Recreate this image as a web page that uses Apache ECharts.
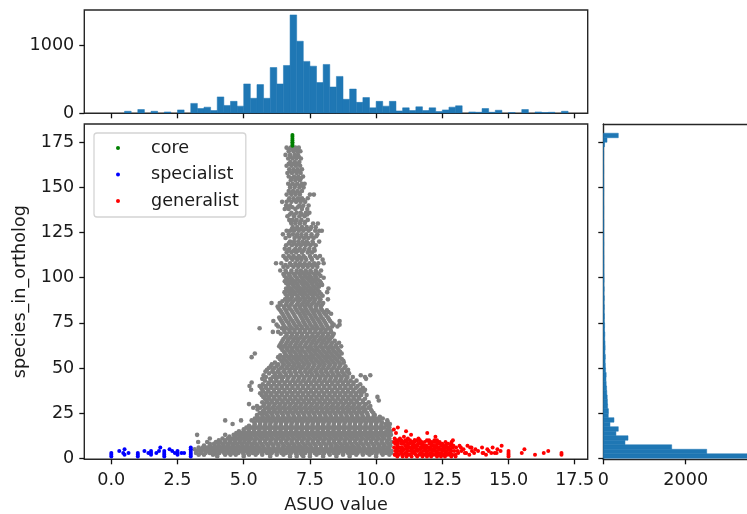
<!DOCTYPE html>
<html>
<head>
<meta charset="utf-8">
<style>html,body{margin:0;padding:0;background:#fff;overflow:hidden}#c{width:747px;height:514px}</style>
<script src="https://cdn.jsdelivr.net/npm/echarts@6/dist/echarts.min.js"></script>
</head>
<body>
<div id="c"></div>
<script>
const xTicks = [0, 2.5, 5, 7.5, 10, 12.5, 15, 17.5];
const yTicks = [0, 25, 50, 75, 100, 125, 150, 175];
const topTicks = [0, 1000];
const rightTicks = [0, 2000];
const asuoBinWidth = 0.25;
const asuoCounts = [0,0,30,0,55,0,30,0,20,0,50,0,145,70,90,40,240,115,175,105,430,220,420,220,670,430,700,1440,1055,760,690,450,715,385,540,205,355,160,230,80,175,105,175,35,80,40,95,40,80,25,50,90,110,0,20,15,70,15,45,0,10,0,55,0,20,10,15,0,30];
const speciesBinWidth = 2.5;
const speciesCounts = [3900,2510,1660,526,600,307,364,162,259,121,125,105,100,95,85,80,70,65,70,55,50,45,50,40,45,42,35,38,30,32,25,28,22,26,20,25,18,22,16,20,18,15,17,14,16,13,12,15,11,13,10,12,11,9,10,12,9,8,10,11,9,8,7,9,8,6,7,8,6,30,90,364];
const coreX = [6.84,6.84,6.84,6.84,6.84,6.84,6.84];
const coreY = [173,174,175,176,177,178,179];
const specialistX = [0,0,0,0.3,0.45,0.5,0.5,0.65,1,1,1,1.25,1.4,1.5,1.5,1.5,1.7,1.8,1.85,2,2,2,2,2.2,2.3,2.4,2.5,2.5,2.5,2.65,2.75,3,3,3,3,3,3];
const specialistY = [1,2,3,4,3,5,2,3,1,2,3,4,3,2,3,4,3,4,6,1,2,3,4,5,4,3,2,3,4,3,3,1,2,3,4,5,6];
const generalistX = [10.82,10.67,11.13,11.32,11.93,12.24,12.9,10.75,11.05,10.7,10.9,11.2,11.45,11.6,10.68,10.85,11.02,11.18,11.36,11.55,11.72,11.92,12.1,12.3,12.62,12.85,10.72,10.95,11.1,11.28,11.48,11.66,11.82,12.02,12.18,12.4,12.55,12.72,12.92,13.15,13.45,13.6,10.68,10.88,11.06,11.24,11.42,11.58,11.76,11.95,12.12,12.28,12.46,12.66,12.8,13.02,13.3,13.55,13.75,14,14.2,14.4,14.58,10.72,10.9,11.1,11.3,11.5,11.68,11.88,12.05,12.22,12.38,12.58,12.75,12.95,13.22,13.4,13.62,13.85,14.05,14.25,14.48,14.7,10.7,10.85,11.02,11.2,11.38,11.62,11.8,11.98,12.15,12.34,12.52,12.7,12.88,13,13.35,13.52,13.7,14.02,14.15,14.35,14.55,10.8,11,11.15,11.34,11.55,11.75,11.92,12.08,12.3,12.45,12.6,12.84,13,14.74,15,15,15,15,15.5,15.6,16,16.33,16.5,17,17];
const generalistY = [17,16,15,13,14,12,10,14,12,11,11,11,10,11,9,10,9,10,9,10,9,10,9,10,9,9,8,8,7,8,7,8,7,8,7,8,7,8,7,7,7,6,6,6,5,6,6,5,6,6,5,6,5,6,5,6,5,6,5,6,5,6,5,4,4,3,4,4,3,4,3,4,3,4,3,4,4,3,4,4,3,4,3,4,2,2,2,2,3,2,2,2,2,2,2,2,2,2,3,2,3,3,2,3,3,1,1,1,1,1,1,1,1,1,1,1,1,1,7,1,2,3,4,3,5,2,3,4,2,3];
const generalistMoreRows = [
[2,[10.72,10.98,11.28,11.5,11.72,11.9,12.08,12.24,12.44,12.62,12.8]],
[3,[10.78,10.95,11.14,11.44,11.7,11.9,12.1,12.28,12.46,12.62,12.8,13.1]],
[4,[10.82,11,11.2,11.4,11.58,11.78,11.96,12.14,12.3,12.5,12.66,12.84,13.08]],
[5,[10.78,10.98,11.16,11.34,11.52,11.68,11.86,12.04,12.2,12.38,12.56,12.74]],
[6,[10.8,10.98,11.15,11.34,11.5,11.68,11.86,12.04,12.2,12.37,12.54,12.74,12.9,13.2]],
[7,[10.8,11.2,11.38,11.56,11.74,11.9,12.1,12.28,12.46,12.64,12.82]],
[8,[10.82,11.02,11.2,11.4,11.58,11.74,12.1,12.3,12.5,12.66,12.84]],
[9,[10.8,10.94,11.1,11.3,11.46,11.66,11.84,12,12.2,12.4]],
[10,[10.78,10.95,11.1,11.28,11.46,11.65,12,12.2]]
];
const greyRows = [
[172,[6.62,6.78,6.95,7.08]],[170,[6.7,6.88,7.02,7.14]],[168,[6.58,6.75,6.92,7.05]],[166,[6.68,6.84,6.99,7.16]],[164,[6.76,6.93,7.1]],[162,[6.62,6.8,6.97,7.13]],[160,[6.72,6.88,7.04,7.2]],[158,[6.65,6.82,7,7.15]],[156,[6.7,6.9,7.06,7.24]],[154,[6.78,6.95,7.12]],[152,[6.68,6.85,7.02,7.2,7.3]],[150,[6.75,6.92,7.1,7.26]],[148,[6.7,6.86,7.03,7.2]],[146,[6.62,6.8,6.96,7.12,7.5,7.65]],[144,[6.72,6.88,7.05,7.2,7.42]],[142,[6.45,6.62,6.8,6.98,7.15,7.32]],[140,[6.6,6.75,7.1,7.25,7.45]],[138,[6.55,6.7,6.95,7.2,7.4]],[136,[6.8,7,7.15,7.35,7.48]],[134,[6.65,6.9,7.1,7.3]],
[132,[6.72,6.85,7,7.18,7.42]],[130,[6.8,6.95,7.12,7.3,7.62,7.8]],[128,[6.85,7.02,7.2,7.38,7.55,7.72]],[126,[6.62,6.75,6.9,7.08,7.25,7.45,7.7,7.85,7.95]],[124,[6.48,6.7,6.86,7.02,7.18,7.36,7.56,7.78]],[122,[6.58,6.92,7.1,7.28,7.44,7.64]],[120,[6.75,6.9,7.06,7.22,7.38,7.6,7.85]],[118,[6.6,6.82,7,7.16,7.34,7.52,7.72]],[116,[6.55,6.72,6.95,7.12,7.3,7.48,7.66]],[114,[6.62,6.8,6.98,7.2,7.42,7.58]],
[112,[6.5,6.7,6.88,7.08,7.26,7.5,7.7,7.88]],[110,[6.62,6.84,7.02,7.18,7.36,7.58,7.98]],[108,[6.22,6.42,6.75,6.95,7.12,7.3,7.48,7.66,7.82,8.02]],[106,[6.5,6.66,6.88,7.06,7.24,7.42,7.6,7.78]],[104,[6.38,6.58,6.8,7,7.16,7.34,7.52,7.72,7.92]],[102,[6.5,6.7,6.9,7.1,7.28,7.46,7.66,7.84]],[100,[6.6,6.78,7,7.2,7.38,7.56,7.74,8.02]],[98,[6.55,6.72,6.92,7.12,7.3,7.5,7.68,7.88]],[96,[6.68,6.86,7.04,7.24,7.42,7.6,7.8,7.96]],[94,[6.6,6.78,6.98,7.16,7.34,7.54,7.72,8.2]],
[92,[6.54,6.72,6.9,7.1,7.28,7.48,7.66,7.86,8.15]],[90,[6.66,6.84,7.02,7.22,7.4,7.6,7.78,7.98]],[88,[6.56,6.74,6.96,7.14,7.32,7.52,7.7,7.9,8.18]],[86,[6.05,6.36,6.62,6.82,7.04,7.24,7.42,7.62,7.82,8]],[84,[6.28,6.52,6.7,6.92,7.12,7.3,7.5,7.72,7.9]],[82,[6.38,6.6,6.8,7,7.2,7.38,7.58,7.76,7.96,8.14]],[80,[6.46,6.66,6.88,7.1,7.28,7.46,7.66,7.86,8.06,8.3]],[78,[6.34,6.54,6.74,6.96,7.18,7.36,7.56,7.74,7.94,8.18]],[76,[6.12,6.42,6.62,6.84,7.04,7.24,7.44,7.64,7.84,8.04,8.26,8.62]],[74,[6.24,6.5,6.72,6.92,7.12,7.32,7.52,7.72,7.92,8.12,8.4,8.62]],
[72,[5.6,6.44,6.62,6.82,7.02,7.22,7.42,7.62,7.8,8,8.2]],[70,[6.1,6.3,6.54,6.74,6.92,7.12,7.3,7.5,7.7,7.9,8.08,8.3]],[68,[6.62,6.82,7,7.2,7.4,7.6,7.78,7.98,8.18,8.36]],[66,[6.5,6.7,6.9,7.08,7.28,7.48,7.68,7.88,8.06,8.26]],[64,[6.42,6.62,6.8,7,7.18,7.38,7.58,7.76,7.96,8.14,8.34,8.6]],[62,[6.34,6.52,6.72,6.92,7.1,7.3,7.5,7.7,7.88,8.08,8.26,8.46,8.68]],[60,[6.46,6.66,6.84,7.04,7.22,7.42,7.62,7.8,8,8.2,8.38,8.58]],[58,[5.42,6.56,6.76,6.96,7.14,7.34,7.54,7.72,7.92,8.12,8.3,8.5,8.7]],[56,[5.3,6.3,6.5,6.68,6.88,7.06,7.26,7.46,7.64,7.84,8.04,8.22,8.42,8.62]],[54,[6.42,6.6,6.8,7,7.18,7.38,7.56,7.76,7.96,8.14,8.34,8.54,8.76]],
[52,[6.06,6.3,6.52,6.72,6.92,7.1,7.3,7.48,7.68,7.88,8.06,8.26,8.46,8.66]],[50,[5.95,6.16,6.4,6.62,6.82,7,7.2,7.4,7.6,7.8,8,8.18,8.38,8.58,8.8]],[48,[5.82,6.08,6.28,6.5,6.72,6.92,7.12,7.32,7.5,7.7,7.9,8.1,8.3,8.5,8.7,8.9]],[46,[5.75,6.2,6.4,6.6,6.8,7,7.2,7.4,7.6,7.8,8,8.2,8.4,8.6,8.82,9.42,9.78]],[44,[5.7,6,6.22,6.44,6.66,6.88,7.08,7.28,7.48,7.68,7.88,8.08,8.28,8.48,8.68,8.88,9.62]],[42,[5.3,5.95,6.15,6.35,6.55,6.75,6.95,7.15,7.35,7.55,7.75,7.95,8.15,8.35,8.55,8.75,8.95,9.15]],[40,[5.22,5.6,5.82,6.04,6.24,6.44,6.64,6.84,7.04,7.24,7.44,7.64,7.84,8.04,8.24,8.44,8.64,8.84,9.04,9.3]],[38,[5.28,5.7,5.92,6.14,6.34,6.54,6.74,6.94,7.14,7.34,7.54,7.74,7.94,8.14,8.34,8.54,8.74,8.94,9.14,9.4,9.58]],[36,[5.62,5.84,6.04,6.24,6.44,6.64,6.84,7.04,7.24,7.44,7.64,7.84,8.04,8.24,8.44,8.64,8.84,9.04,9.24,9.44]],[34,[5.74,5.94,6.14,6.34,6.54,6.74,6.94,7.14,7.34,7.54,7.74,7.94,8.14,8.34,8.54,8.74,8.94,9.14,9.34,10.05]],
[32,[5.85,6.05,6.25,6.45,6.65,6.85,7.05,7.25,7.45,7.65,7.85,8.05,8.25,8.45,8.65,8.85,9.05,9.25,9.5,10.1]],[30,[5.2,5.78,5.98,6.18,6.38,6.58,6.78,6.98,7.18,7.38,7.58,7.78,7.98,8.18,8.38,8.58,8.78,8.98,9.18,9.38,9.62]],[28,[5.36,5.62,5.88,6.08,6.28,6.48,6.68,6.88,7.08,7.28,7.48,7.68,7.88,8.08,8.28,8.48,8.68,8.88,9.08,9.28,9.48,9.72]],[26,[5.72,5.94,6.14,6.34,6.54,6.74,6.94,7.14,7.34,7.54,7.74,7.94,8.14,8.34,8.54,8.74,8.94,9.14,9.34,9.54,9.84]],[24,[5.5,5.7,5.88,6.08,6.28,6.48,6.68,6.88,7.08,7.28,7.48,7.68,7.88,8.08,8.28,8.48,8.68,8.88,9.08,9.28,9.48,9.68,9.95]],
[22,[5.42,5.62,5.82,6,6.2,6.4,6.6,6.8,7,7.2,7.4,7.6,7.8,8,8.2,8.4,8.6,8.8,9,9.2,9.4,9.6,9.8,10.02,10.25]],[21,[4.3,4.9,5.3,5.52,5.72,5.92,6.12,6.32,6.52,6.72,6.92,7.12,7.32,7.52,7.72,7.92,8.12,8.32,8.52,8.72,8.92,9.12,9.32,9.52,9.72,9.92,10.12,10.42]],[19,[4.58,5.42,5.62,5.82,6,6.2,6.4,6.6,6.8,7,7.2,7.4,7.6,7.8,8,8.2,8.4,8.6,8.8,9,9.2,9.4,9.6,9.8,10,10.2,10.36,10.52]],[17,[5.1,5.3,5.5,5.7,5.9,6.1,6.3,6.5,6.7,6.9,7.1,7.3,7.5,7.7,7.9,8.1,8.3,8.5,8.7,8.9,9.1,9.3,9.5,9.7,9.9,10.1,10.3,10.5]],[15,[4.82,5,5.18,5.38,5.58,5.78,5.98,6.18,6.38,6.58,6.78,6.98,7.18,7.38,7.58,7.78,7.98,8.18,8.38,8.58,8.78,8.98,9.18,9.38,9.58,9.78,9.98,10.18,10.38,10.55]],
[13,[3.24,4.3,4.62,4.8,4.98,5.16,5.36,5.56,5.76,5.96,6.16,6.36,6.56,6.76,6.96,7.16,7.36,7.56,7.76,7.96,8.16,8.36,8.56,8.76,8.96,9.16,9.36,9.56,9.76,9.96,10.16,10.36,10.56]],[11,[3.72,4.2,4.4,4.58,4.76,4.94,5.12,5.3,5.5,5.7,5.9,6.1,6.3,6.5,6.7,6.9,7.1,7.3,7.5,7.7,7.9,8.1,8.3,8.5,8.7,8.9,9.1,9.3,9.5,9.7,9.9,10.1,10.3,10.5]],[9,[3.28,3.62,3.95,4.12,4.3,4.48,4.66,4.84,5.02,5.2,5.4,5.6,5.8,6,6.2,6.4,6.6,6.8,7,7.2,7.4,7.6,7.8,8,8.2,8.4,8.6,8.8,9,9.2,9.4,9.6,9.8,10,10.2,10.4,10.58]],
[7,[3.5,3.72,3.9,4.06,4.24,4.42,4.6,4.78,4.96,5.14,5.32,5.52,5.72,5.92,6.12,6.32,6.52,6.72,6.92,7.12,7.32,7.52,7.72,7.92,8.12,8.32,8.52,8.72,8.92,9.12,9.32,9.52,9.72,9.92,10.12,10.32,10.54]],[5,[3.15,3.32,3.5,3.66,3.84,4.02,4.2,4.38,4.56,4.74,4.92,5.1,5.28,5.46,5.64,5.82,6,6.18,6.36,6.54,6.72,6.9,7.08,7.26,7.44,7.62,7.8,7.98,8.16,8.34,8.52,8.7,8.88,9.06,9.24,9.42,9.6,9.78,9.96,10.14,10.32,10.5]],[3,[3.2,3.38,3.56,3.72,3.9,4.08,4.26,4.44,4.62,4.8,4.98,5.16,5.34,5.52,5.7,5.88,6.06,6.24,6.42,6.6,6.78,6.96,7.14,7.32,7.5,7.68,7.86,8.04,8.22,8.4,8.58,8.76,8.94,9.12,9.3,9.48,9.66,9.84,10.02,10.2,10.38,10.56]],[2,[3.3,3.5,3.84,4,4.3,4.5,4.7,5,5.2,5.45,5.7,6,6.25,6.5,6.75,7,7.2,7.5,7.75,8,8.25,8.5,8.75,9,9.25,9.5,9.75,10,10.25,10.5]],[1,[4,5,6,6.75,7,7.25,7.5,8,8.5,9,10]]
];
const greyMoreRows = [
[171,[6.7,6.86,7.02]],[167,[6.76,6.92,7.08]],[163,[6.7,6.88,7.04]],[159,[6.74,6.92,7.08]],[155,[6.82,7,7.16]],[151,[6.76,6.94,7.14]],[147,[6.76,6.94,7.1]],[143,[6.7,6.9,7.08,7.26]],[139,[6.64,6.84,7.04,7.2]],[135,[6.74,6.92,7.2,7.4]],[131,[6.78,6.96,7.14,7.32]],[127,[6.82,6.98,7.16,7.34,7.52]],[123,[6.72,7,7.18,7.36,7.56,7.74]],[119,[6.7,6.9,7.08,7.26,7.44,7.62]],[115,[6.68,6.88,7.06,7.26,7.46,7.68]],[111,[6.56,6.78,6.96,7.14,7.32,7.54,7.78]],[107,[6.58,6.8,6.98,7.18,7.36,7.56,7.72]],[103,[6.6,6.8,7,7.2,7.38,7.56,7.76]],[101,[6.54,6.74,6.94,7.14,7.32,7.5,7.7,7.9]],[99,[6.64,6.84,7.04,7.24,7.44,7.62,7.8]],[97,[6.6,6.8,6.98,7.18,7.36,7.56,7.74,7.92]],[95,[6.7,6.9,7.08,7.28,7.46,7.66,7.84]],[93,[6.66,6.84,7.04,7.22,7.42,7.6,7.8]],[91,[6.58,6.78,6.96,7.16,7.34,7.54,7.72,7.92]],[89,[6.62,6.82,7.06,7.26,7.44,7.62,7.84]],[87,[6.46,6.66,6.86,7.08,7.28,7.46,7.66,7.86]],[85,[6.4,6.6,6.78,7,7.18,7.38,7.56,7.76,7.96]],[83,[6.32,6.54,6.74,6.96,7.14,7.34,7.54,7.72,7.92]],[81,[6.42,6.62,6.84,7.04,7.24,7.42,7.62,7.82,8.02,8.2]],[79,[6.5,6.7,6.92,7.14,7.32,7.52,7.7,7.9,8.12]],[77,[6.38,6.58,6.78,7,7.22,7.4,7.6,7.8,8,8.22]],[75,[6.46,6.68,6.88,7.08,7.28,7.48,7.68,7.88,8.08,8.32]],[73,[6.3,6.54,6.76,6.98,7.18,7.38,7.58,7.76,7.96,8.16,8.34,8.54]],[71,[6.52,6.72,6.92,7.12,7.32,7.52,7.72,7.92,8.1,8.28]],[69,[6.4,6.62,6.82,7.02,7.2,7.4,7.6,7.82,8,8.2,8.4]],[67,[6.56,6.76,6.96,7.14,7.34,7.54,7.72,7.92,8.12,8.32]],[65,[6.46,6.66,6.86,7.04,7.24,7.44,7.62,7.82,8,8.2,8.44]],[63,[6.38,6.58,6.76,6.96,7.14,7.34,7.54,7.72,7.92,8.1,8.3,8.5]],[61,[6.42,6.62,6.82,7,7.2,7.4,7.56,7.76,7.96,8.16,8.34,8.54]],[59,[6.52,6.72,6.9,7.1,7.28,7.48,7.68,7.86,8.06,8.24,8.44,8.64]],[57,[6.38,6.6,6.8,7,7.18,7.38,7.58,7.78,7.98,8.16,8.36,8.56]],[55,[6.36,6.54,6.74,6.94,7.12,7.32,7.52,7.7,7.9,8.1,8.28,8.48,8.7]],[53,[6.18,6.46,6.66,6.86,7.04,7.24,7.42,7.62,7.82,8,8.2,8.4,8.6,8.78]],[51,[6.02,6.24,6.46,6.66,6.86,7.06,7.24,7.44,7.64,7.84,8.02,8.22,8.42,8.62,8.84]],[49,[5.88,6.1,6.32,6.54,6.74,6.94,7.14,7.34,7.54,7.74,7.94,8.12,8.32,8.52,8.72,8.94]],[47,[5.96,6.16,6.36,6.58,6.78,6.98,7.18,7.38,7.56,7.76,7.96,8.16,8.36,8.56,8.76,8.98]],[45,[5.84,6.1,6.3,6.5,6.7,6.9,7.1,7.3,7.5,7.7,7.9,8.1,8.3,8.5,8.7,8.92,9.12,9.58]],[43,[5.8,6.04,6.24,6.44,6.64,6.84,7.04,7.24,7.44,7.64,7.84,8.04,8.24,8.44,8.64,8.84,9.04,9.26]],[41,[5.72,5.92,6.14,6.34,6.54,6.74,6.94,7.14,7.34,7.54,7.74,7.94,8.14,8.34,8.54,8.74,8.94,9.14,9.4]],[39,[5.66,5.84,6.04,6.24,6.44,6.64,6.84,7.04,7.24,7.44,7.64,7.84,8.04,8.24,8.44,8.64,8.84,9.04,9.24,9.5]],[37,[5.74,5.94,6.14,6.34,6.54,6.74,6.94,7.14,7.34,7.54,7.74,7.94,8.14,8.34,8.54,8.74,8.94,9.14,9.34,9.54]],[35,[5.68,5.86,6.04,6.24,6.44,6.64,6.84,7.04,7.24,7.44,7.64,7.84,8.04,8.24,8.44,8.64,8.84,9.04,9.24,9.44,9.64]],[33,[5.8,5.96,6.16,6.36,6.56,6.76,6.96,7.16,7.36,7.56,7.76,7.96,8.16,8.36,8.56,8.76,8.96,9.16,9.36,9.58]],[31,[5.7,5.9,6.08,6.28,6.48,6.68,6.88,7.08,7.28,7.48,7.68,7.88,8.08,8.28,8.48,8.68,8.88,9.08,9.28,9.5,9.72]],[29,[5.5,5.74,5.94,6.14,6.34,6.54,6.74,6.94,7.14,7.34,7.54,7.74,7.94,8.14,8.34,8.54,8.74,8.94,9.14,9.34,9.56,9.78]],[27,[5.52,5.78,5.98,6.18,6.38,6.58,6.78,6.98,7.18,7.38,7.58,7.78,7.98,8.18,8.38,8.58,8.78,8.98,9.18,9.38,9.6,9.8]],[25,[5.6,5.82,6.04,6.24,6.44,6.64,6.84,7.04,7.24,7.44,7.64,7.84,8.04,8.24,8.44,8.64,8.84,9.04,9.24,9.44,9.66,9.9]],
[23,[5.52,5.72,5.92,6.1,6.3,6.5,6.7,6.9,7.1,7.3,7.5,7.7,7.9,8.1,8.3,8.5,8.7,8.9,9.1,9.3,9.5,9.7,9.9,10.14]],[20,[5.4,5.62,5.82,6.02,6.22,6.42,6.62,6.82,7.02,7.22,7.42,7.62,7.82,8.02,8.22,8.42,8.62,8.82,9.02,9.22,9.42,9.62,9.82,10.02,10.22,10.44]],[18,[5.2,5.4,5.6,5.8,6,6.2,6.4,6.6,6.8,7,7.2,7.4,7.6,7.8,8,8.2,8.4,8.6,8.8,9,9.2,9.4,9.6,9.8,10,10.2,10.42]],[16,[5,5.2,5.4,5.6,5.8,6,6.2,6.4,6.6,6.8,7,7.2,7.4,7.6,7.8,8,8.2,8.4,8.6,8.8,9,9.2,9.4,9.6,9.8,10,10.2,10.44]],[14,[4.72,4.9,5.08,5.26,5.46,5.66,5.86,6.06,6.26,6.46,6.66,6.86,7.06,7.26,7.46,7.66,7.86,8.06,8.26,8.46,8.66,8.86,9.06,9.26,9.46,9.66,9.86,10.06,10.26,10.48]],[12,[4.46,4.68,4.88,5.06,5.24,5.44,5.64,5.84,6.04,6.24,6.44,6.64,6.84,7.04,7.24,7.44,7.64,7.84,8.04,8.24,8.44,8.64,8.84,9.04,9.24,9.44,9.64,9.84,10.04,10.24,10.46]],[10,[4.06,4.3,4.5,4.68,4.86,5.04,5.22,5.42,5.62,5.82,6.02,6.22,6.42,6.62,6.82,7.02,7.22,7.42,7.62,7.82,8.02,8.22,8.42,8.62,8.82,9.02,9.22,9.42,9.62,9.82,10.02,10.22,10.44]],[8,[3.72,3.88,4.04,4.2,4.38,4.56,4.74,4.92,5.1,5.28,5.46,5.66,5.86,6.06,6.26,6.46,6.66,6.86,7.06,7.26,7.46,7.66,7.86,8.06,8.26,8.46,8.66,8.86,9.06,9.26,9.46,9.66,9.86,10.06,10.26,10.46]],[6,[3.3,3.46,3.62,3.78,3.96,4.14,4.32,4.5,4.68,4.86,5.04,5.22,5.4,5.58,5.76,5.94,6.12,6.3,6.48,6.66,6.84,7.02,7.2,7.38,7.56,7.74,7.92,8.1,8.28,8.46,8.64,8.82,9,9.18,9.36,9.54,9.72,9.9,10.08,10.26,10.44]],[4,[3.24,3.42,3.6,3.78,3.96,4.14,4.32,4.5,4.68,4.86,5.04,5.22,5.4,5.58,5.76,5.94,6.12,6.3,6.48,6.66,6.84,7.02,7.2,7.38,7.56,7.74,7.92,8.1,8.28,8.46,8.64,8.82,9,9.18,9.36,9.54,9.72,9.9,10.08,10.26,10.44,10.58]]
];
const flatten = function (rows) { const out = []; rows.forEach(function (r) { r[1].forEach(function (x) { out.push([x, r[0]]); }); }); return out; };
const greyPoints = flatten(greyRows).concat(flatten(greyMoreRows));
const pair = function (xs, ys) { return xs.map(function (x, i) { return [x, ys[i]]; }); };
const FONT = 'DejaVu Sans';
const INK = '#1a1a1a';
const SPINE = '#262626';
const BAR = '#1f77b4';
const spine = { show: true, borderColor: SPINE, borderWidth: 1.4, backgroundColor: 'transparent', outerBoundsMode: 'none' };
const tick = function (vals) { return { show: true, length: 5, inside: false, customValues: vals, lineStyle: { color: '#111', width: 1.3 } }; };
const lab = function (vals, fmt, margin) { return { show: true, customValues: vals, fontFamily: FONT, fontSize: 17.6, color: INK, margin: margin, formatter: fmt, hideOverlap: false }; };
const noLab = { show: false };
const noLine = { show: false, onZero: false };
const edgeLine = { show: true, onZero: false, lineStyle: { color: SPINE, width: 1.4 } };
const nameStyle = { fontFamily: FONT, fontSize: 17.6, color: INK };
const chart = echarts.init(document.getElementById('c'), null, { renderer: 'canvas' });
const XMIN = -1.02, XMAX = 17.99, YMIN = -0.55, YMAX = 185.1;
const scatterBase = { type: 'scatter', xAxisIndex: 0, yAxisIndex: 0 };
chart.setOption({
  animation: false,
  backgroundColor: '#fff',
  grid: [
    Object.assign({ left: 84.3, top: 124, width: 503.4, height: 335.3 }, spine),
    Object.assign({ left: 84.3, top: 10, width: 503.4, height: 103.3 }, spine),
    { left: 603.3, top: 124, width: 143.7, height: 335.3, show: false, outerBoundsMode: 'none' }
  ],
  xAxis: [
    { gridIndex: 0, type: 'value', min: XMIN, max: XMAX, splitLine: { show: false }, axisLine: noLine, axisTick: tick(xTicks), axisLabel: lab(xTicks, function (v) { return v.toFixed(1); }, 12), name: 'ASUO value', nameLocation: 'middle', nameGap: 37, nameTextStyle: nameStyle },
    { gridIndex: 1, type: 'value', min: XMIN, max: XMAX, splitLine: { show: false }, axisLine: noLine, axisTick: tick(xTicks), axisLabel: noLab },
    { gridIndex: 2, type: 'value', min: 0, max: 3488, position: 'bottom', splitLine: { show: false }, axisLine: edgeLine, axisTick: tick(rightTicks), axisLabel: lab(rightTicks, function (v) { return String(v); }, 12) },
    { gridIndex: 2, type: 'value', min: 0, max: 3488, position: 'top', splitLine: { show: false }, axisLine: edgeLine, axisTick: { show: false }, axisLabel: noLab }
  ],
  yAxis: [
    { gridIndex: 0, type: 'value', min: YMIN, max: YMAX, splitLine: { show: false }, axisLine: noLine, axisTick: tick(yTicks), axisLabel: lab(yTicks, function (v) { return String(v); }, 10), name: 'species_in_ortholog', nameLocation: 'middle', nameGap: 53, nameTextStyle: nameStyle },
    { gridIndex: 1, type: 'value', min: 0, max: 1512, splitLine: { show: false }, axisLine: noLine, axisTick: tick(topTicks), axisLabel: lab(topTicks, function (v) { return String(v); }, 10) },
    { gridIndex: 2, type: 'value', min: YMIN, max: YMAX, position: 'left', splitLine: { show: false }, axisLine: edgeLine, axisTick: tick(yTicks), axisLabel: noLab }
  ],
  legend: {
    data: ['core', 'specialist', 'generalist'],
    left: 94, top: 133, orient: 'vertical', align: 'left',
    padding: [5, 7, 6, 22],
    itemWidth: 4, itemHeight: 4, itemGap: 6.5,
    icon: 'circle',
    backgroundColor: '#fff', borderColor: '#d4d4d4', borderWidth: 1.3, borderRadius: 3,
    textStyle: { fontFamily: FONT, fontSize: 17.6, color: INK, lineHeight: 20, padding: [0, 0, 0, 26] }
  },
  series: [
    Object.assign({ name: 'grey', data: greyPoints, symbolSize: 4.6, large: false, itemStyle: { color: '#808080', opacity: 1 }, z: 2 }, scatterBase),
    Object.assign({ name: 'core', data: pair(coreX, coreY), symbolSize: 4, itemStyle: { color: '#008000', opacity: 1 }, z: 3 }, scatterBase),
    Object.assign({ name: 'specialist', data: pair(specialistX, specialistY), symbolSize: 4, itemStyle: { color: '#0000ff', opacity: 1 }, z: 3 }, scatterBase),
    Object.assign({ name: 'generalist', data: pair(generalistX, generalistY).concat(flatten(generalistMoreRows)), symbolSize: 4, itemStyle: { color: '#ff0000', opacity: 1 }, z: 3 }, scatterBase),
    { name: 'asuoHist', type: 'custom', xAxisIndex: 1, yAxisIndex: 1, clip: true,
      data: asuoCounts.map(function (c, i) { return [i * asuoBinWidth, c]; }),
      encode: { x: 0, y: 1 },
      renderItem: function (params, api) {
        const x0 = api.value(0), c = api.value(1);
        if (!c) { return null; }
        const a = api.coord([x0, 0]), b = api.coord([x0 + asuoBinWidth, c]);
        return { type: 'rect', shape: { x: a[0], y: b[1], width: b[0] - a[0], height: a[1] - b[1] }, style: { fill: BAR, stroke: BAR, lineWidth: 0.5 } };
      } },
    { name: 'speciesHist', type: 'custom', xAxisIndex: 2, yAxisIndex: 2, clip: true,
      data: speciesCounts.map(function (c, i) { return [c, i * speciesBinWidth]; }),
      encode: { x: 0, y: 1 },
      renderItem: function (params, api) {
        const c = api.value(0), y0 = api.value(1);
        const a = api.coord([0, y0]), b = api.coord([c, y0 + speciesBinWidth]);
        return { type: 'rect', shape: { x: a[0], y: b[1], width: b[0] - a[0], height: a[1] - b[1] }, style: { fill: BAR, stroke: BAR, lineWidth: 0.5 } };
      } }
  ]
});
</script>
</body>
</html>
